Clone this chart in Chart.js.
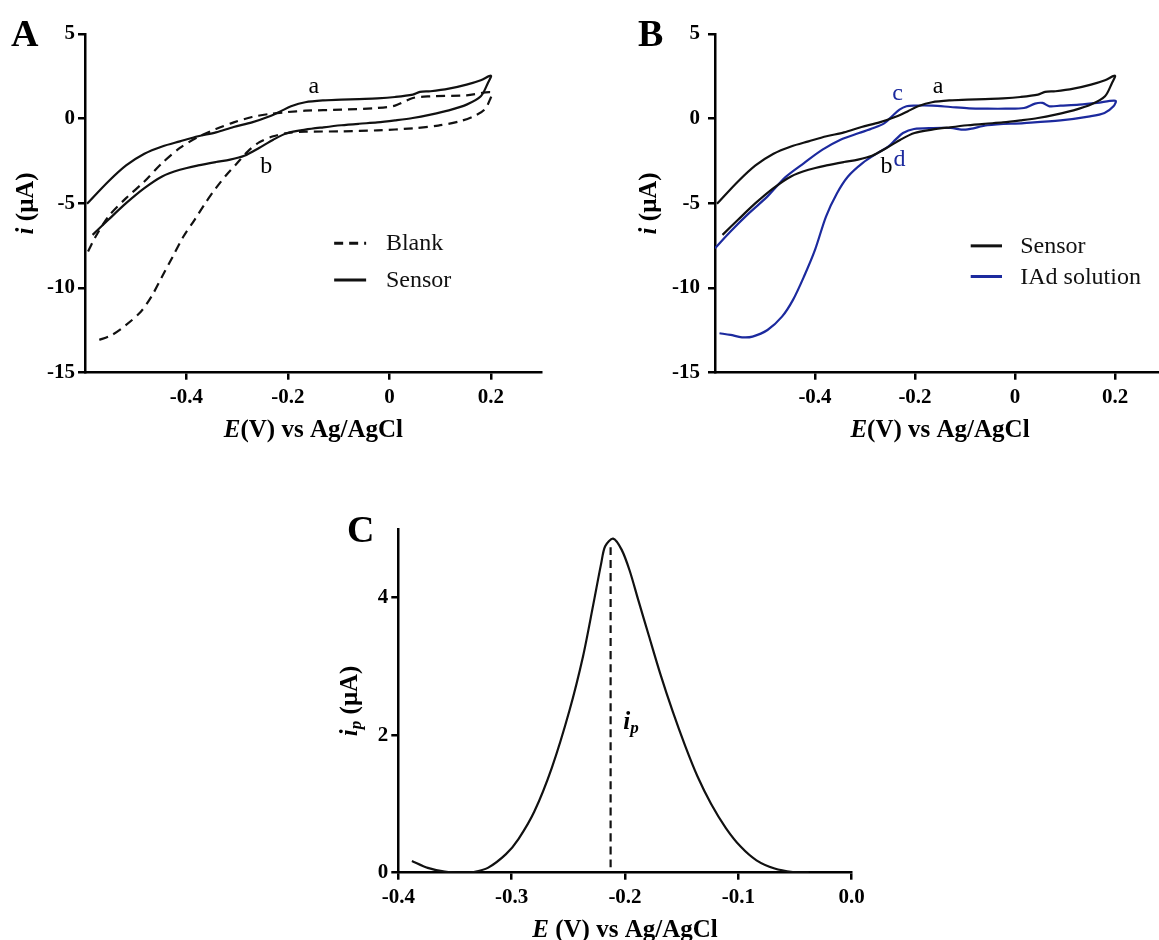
<!DOCTYPE html>
<html>
<head>
<meta charset="utf-8">
<script src="https://cdn.jsdelivr.net/npm/chart.js@4.4.1/dist/chart.umd.min.js"></script>
<style>
  html, body { margin: 0; padding: 0; background: #fff; overflow: hidden; }
  body { width: 1159px; height: 940px; position: relative; }
  canvas { position: absolute; }
</style>
</head>
<body>
<canvas id="chartA" width="580" height="460" style="left:0;top:0"></canvas>
<canvas id="chartB" width="600" height="460" style="left:580px;top:0"></canvas>
<canvas id="chartC" width="600" height="460" style="left:300px;top:480px"></canvas>
<script>
// ---- data ----
// CV of the sensor: forward scan -0.6 -> 0.2 V, then back
const sensorE = [-0.596, -0.554, -0.519, -0.483, -0.448, -0.413, -0.377, -0.342, -0.307, -0.271, -0.236, -0.215, -0.194, -0.166, -0.130, -0.095, -0.060, -0.024, 0.011, 0.046, 0.060, 0.081, 0.117, 0.152, 0.180, 0.200,
  0.194, 0.180, 0.152, 0.117, 0.081, 0.046, 0.011, -0.024, -0.060, -0.095, -0.130, -0.166, -0.201, -0.229, -0.257, -0.286, -0.314, -0.342, -0.377, -0.413, -0.448, -0.483, -0.519, -0.554, -0.585];
const sensorI = [-5.03, -3.71, -2.76, -2.07, -1.64, -1.34, -1.04, -0.81, -0.49, -0.22, 0.14, 0.43, 0.73, 0.97, 1.08, 1.12, 1.16, 1.20, 1.28, 1.42, 1.58, 1.62, 1.77, 2.01, 2.27, 2.54,
  2.11, 1.32, 0.83, 0.49, 0.24, 0.04, -0.10, -0.22, -0.30, -0.39, -0.51, -0.65, -0.85, -1.24, -1.73, -2.19, -2.42, -2.56, -2.76, -3.02, -3.41, -4.10, -4.99, -5.97, -6.86];

// CV of the blank electrode
const blankE = [-0.594, -0.579, -0.554, -0.519, -0.483, -0.448, -0.413, -0.377, -0.342, -0.307, -0.271, -0.236, -0.201, -0.166, -0.095, -0.024, 0.011, 0.046, 0.081, 0.152, 0.201,
  0.198, 0.187, 0.166, 0.138, 0.096, 0.046, -0.024, -0.095, -0.166, -0.201, -0.229, -0.257, -0.279, -0.300, -0.321, -0.342, -0.363, -0.384, -0.406, -0.427, -0.448, -0.469, -0.490, -0.519, -0.547, -0.575];
const blankI = [-7.84, -6.96, -5.78, -4.69, -3.71, -2.62, -1.73, -1.08, -0.61, -0.22, 0.10, 0.28, 0.39, 0.47, 0.53, 0.63, 0.77, 1.22, 1.32, 1.38, 1.56,
  1.12, 0.53, 0.14, -0.16, -0.41, -0.57, -0.69, -0.75, -0.77, -0.85, -1.04, -1.40, -1.93, -2.62, -3.31, -4.10, -4.99, -5.97, -6.96, -8.14, -9.32, -10.5, -11.4, -12.18, -12.77, -13.1];

// CV in IAd solution
const iadE = [-0.600, -0.569, -0.532, -0.495, -0.459, -0.422, -0.385, -0.349, -0.312, -0.283, -0.261, -0.246, -0.231, -0.217, -0.202, -0.165, -0.129, -0.092, -0.055, -0.019, 0.018, 0.040, 0.055, 0.069, 0.091, 0.128, 0.164, 0.201,
  0.197, 0.179, 0.150, 0.091, 0.018, -0.055, -0.099, -0.129, -0.165, -0.202, -0.224, -0.239, -0.253, -0.275, -0.305, -0.334, -0.356, -0.378, -0.400, -0.422, -0.444, -0.466, -0.495, -0.525, -0.546, -0.569, -0.591];
const iadI = [-7.65, -6.66, -5.58, -4.59, -3.45, -2.62, -1.83, -1.24, -0.85, -0.55, -0.26, 0.14, 0.53, 0.73, 0.77, 0.77, 0.69, 0.61, 0.59, 0.59, 0.63, 0.89, 0.93, 0.73, 0.77, 0.83, 0.93, 1.06,
  0.73, 0.34, 0.14, -0.10, -0.26, -0.39, -0.65, -0.55, -0.55, -0.61, -0.85, -1.24, -1.64, -2.03, -2.62, -3.41, -4.40, -5.78, -7.75, -9.32, -10.70, -11.69, -12.48, -12.87, -12.91, -12.77, -12.67];

// DPV peak (panel C)
const dpvE = [-0.388, -0.374, -0.359, -0.343, -0.3335, -0.321, -0.305, -0.294, -0.280, -0.2645, -0.249, -0.237, -0.228, -0.221, -0.2175, -0.2105, -0.203, -0.196, -0.188, -0.179, -0.169, -0.158, -0.147, -0.136, -0.124, -0.111, -0.098, -0.084, -0.068, -0.052, -0.038];
const dpvI = [0.17, 0.07, 0.015, 0, 0.01, 0.07, 0.27, 0.49, 0.89, 1.53, 2.36, 3.15, 3.90, 4.50, 4.75, 4.86, 4.70, 4.40, 3.95, 3.45, 2.90, 2.35, 1.85, 1.40, 1.00, 0.65, 0.38, 0.18, 0.06, 0.01, 0];
const ipLineE = [-0.2127, -0.2127];
const ipLineI = [0.08, 4.76];

// ticks
const cvTicksX = [-0.4, -0.2, 0, 0.2];
const cvLabelsX = ['-0.4', '-0.2', '0', '0.2'];
const cvTicksY = [5, 0, -5, -10, -15];
const cvLabelsY = ['5', '0', '-5', '-10', '-15'];
const dpvTicksX = [-0.4, -0.3, -0.2, -0.1, 0];
const dpvLabelsX = ['-0.4', '-0.3', '-0.2', '-0.1', '0.0'];
const dpvTicksY = [0, 2, 4];
const dpvLabelsY = ['0', '2', '4'];

const SERIF = '"Liberation Serif", "Times New Roman", serif';
const BLUE = '#1c2a9e';

const pts = (xs, ys) => xs.map((x, i) => ({ x, y: ys[i] }));

function drawRich(ctx, parts, x, y, align) {
  let w = 0;
  parts.forEach(p => { ctx.font = p.f; w += ctx.measureText(p.t).width; });
  let cx = align === 'center' ? x - w / 2 : x;
  parts.forEach(p => {
    ctx.font = p.f;
    ctx.fillText(p.t, cx, y + (p.dy || 0));
    cx += ctx.measureText(p.t).width;
  });
}

const decor = {
  id: 'decor',
  afterDraw(chart, args, o) {
    const ctx = chart.ctx, xs = chart.scales.x, ys = chart.scales.y, a = chart.chartArea;
    ctx.save();
    ctx.fillStyle = '#000';
    ctx.textBaseline = 'alphabetic';
    // panel letter
    ctx.font = 'bold 38px ' + SERIF;
    ctx.fillText(o.letter.t, o.letter.x, o.letter.y);
    // axis titles
    drawRich(ctx, o.xTitle, (a.left + a.right) / 2, a.bottom + 64, 'center');
    ctx.save();
    ctx.translate(a.left - o.yTitleGap, (a.top + a.bottom) / 2);
    ctx.rotate(-Math.PI / 2);
    ctx.textBaseline = 'middle';
    drawRich(ctx, o.yTitle, 0, 0, 'center');
    ctx.restore();
    // curve labels
    ctx.textBaseline = 'middle';
    (o.notes || []).forEach(n => {
      ctx.fillStyle = n.color || '#000';
      drawRich(ctx, n.parts, xs.getPixelForValue(n.x), ys.getPixelForValue(n.y), n.align || 'center');
    });
    // legend
    (o.legend || []).forEach(l => {
      const ds = chart.data.datasets[l.index];
      const y = ys.getPixelForValue(l.y);
      ctx.strokeStyle = ds.borderColor;
      ctx.lineWidth = 3;
      ctx.setLineDash(ds.borderDash || []);
      ctx.beginPath();
      ctx.moveTo(xs.getPixelForValue(l.x1), y);
      ctx.lineTo(xs.getPixelForValue(l.x2), y);
      ctx.stroke();
      ctx.setLineDash([]);
      ctx.fillStyle = '#111';
      ctx.font = '24px ' + SERIF;
      ctx.fillText(ds.label, xs.getPixelForValue(l.tx), y + 1);
    });
    ctx.restore();
  }
};

function axis(min, max, ticks, labels, isX, pad) {
  return {
    type: 'linear', min, max,
    afterBuildTicks: s => { s.ticks = ticks.map(v => ({ value: v })); },
    afterFit: s => { if (isX) s.height = 50; else s.width = 60; },
    border: { display: true, color: '#000', width: 2.5 },
    grid: { drawOnChartArea: false, drawTicks: true, tickLength: 7, color: '#000', lineWidth: 2.5 },
    ticks: {
      color: '#000', padding: pad, maxRotation: 0, autoSkip: false,
      font: { family: SERIF, size: 21, weight: 'bold' },
      callback: (v, i) => labels[i]
    }
  };
}

function line(label, xs, ys, color, dash) {
  return {
    label, data: pts(xs, ys), showLine: true, borderColor: color, borderWidth: 2.2,
    borderDash: dash || [], pointRadius: 0, tension: 0.3, fill: false
  };
}

const italicB = s => ({ t: s, f: 'italic bold 25px ' + SERIF });
const bold = s => ({ t: s, f: 'bold 25px ' + SERIF });
const reg = s => ({ t: s, f: '24px ' + SERIF });
const sub = s => ({ t: s, f: 'italic bold 17px ' + SERIF, dy: 6 });

function makeChart(id, datasets, scales, padding, decorOpts) {
  return new Chart(document.getElementById(id), {
    type: 'scatter',
    data: { datasets },
    options: {
      responsive: false, animation: false, events: [],
      layout: { padding },
      scales,
      plugins: { legend: { display: false }, tooltip: { enabled: false }, decor: decorOpts }
    },
    plugins: [decor]
  });
}

makeChart('chartA',
  [line('Blank', blankE, blankI, '#111', [9, 6]), line('Sensor', sensorE, sensorI, '#111')],
  { x: axis(-0.6, 0.3, cvTicksX, cvLabelsX, true, 5), y: axis(-15, 5, cvTicksY, cvLabelsY, false, 3) },
  { left: 25, top: 34, right: 38.3, bottom: 37.3 },
  {
    letter: { t: 'A', x: 11, y: 46 },
    xTitle: [italicB('E'), bold('(V) vs Ag/AgCl')],
    yTitle: [italicB('i'), bold(' (\u03bcA)')], yTitleGap: 58,
    notes: [
      { x: -0.149, y: 1.87, parts: [reg('a')] },
      { x: -0.243, y: -2.82, parts: [reg('b')] }
    ],
    legend: [
      { index: 0, x1: -0.109, x2: -0.046, tx: -0.007, y: -7.35 },
      { index: 1, x1: -0.109, x2: -0.046, tx: -0.007, y: -9.52 }
    ]
  });

makeChart('chartB',
  [line('Sensor', sensorE, sensorI, '#111'), line('IAd solution', iadE, iadI, BLUE)],
  { x: axis(-0.6, 0.3, cvTicksX, cvLabelsX, true, 5), y: axis(-15, 5, cvTicksY, cvLabelsY, false, 8) },
  { left: 75, top: 34, right: 15, bottom: 37.3 },
  {
    letter: { t: 'B', x: 58, y: 46 },
    xTitle: [italicB('E'), bold('(V) vs Ag/AgCl')],
    yTitle: [italicB('i'), bold(' (\u03bcA)')], yTitleGap: 65,
    notes: [
      { x: -0.154, y: 1.87, parts: [reg('a')] },
      { x: -0.235, y: 1.48, parts: [reg('c')], color: BLUE },
      { x: -0.257, y: -2.82, parts: [reg('b')] },
      { x: -0.231, y: -2.42, parts: [reg('d')], color: BLUE }
    ],
    legend: [
      { index: 0, x1: -0.0886, x2: -0.026, tx: 0.0105, y: -7.51 },
      { index: 1, x1: -0.0886, x2: -0.026, tx: 0.0105, y: -9.32 }
    ]
  });

makeChart('chartC',
  [line('DPV', dpvE, dpvI, '#111'), line('ip', ipLineE, ipLineI, '#111', [8, 5])],
  { x: axis(-0.4, 0, dpvTicksX, dpvLabelsX, true, 5), y: axis(0, 5, dpvTicksY, dpvLabelsY, false, 3) },
  { left: 38.3, top: 49, right: 48.3, bottom: 17.3 },
  {
    letter: { t: 'C', x: 47, y: 62 },
    xTitle: [italicB('E'), bold(' (V) vs Ag/AgCl')],
    yTitle: [italicB('i'), sub('p'), bold(' (\u03bcA)')], yTitleGap: 48,
    notes: [
      { x: -0.2015, y: 2.18, align: 'left', parts: [italicB('i'), sub('p')] }
    ]
  });
</script>
</body>
</html>
